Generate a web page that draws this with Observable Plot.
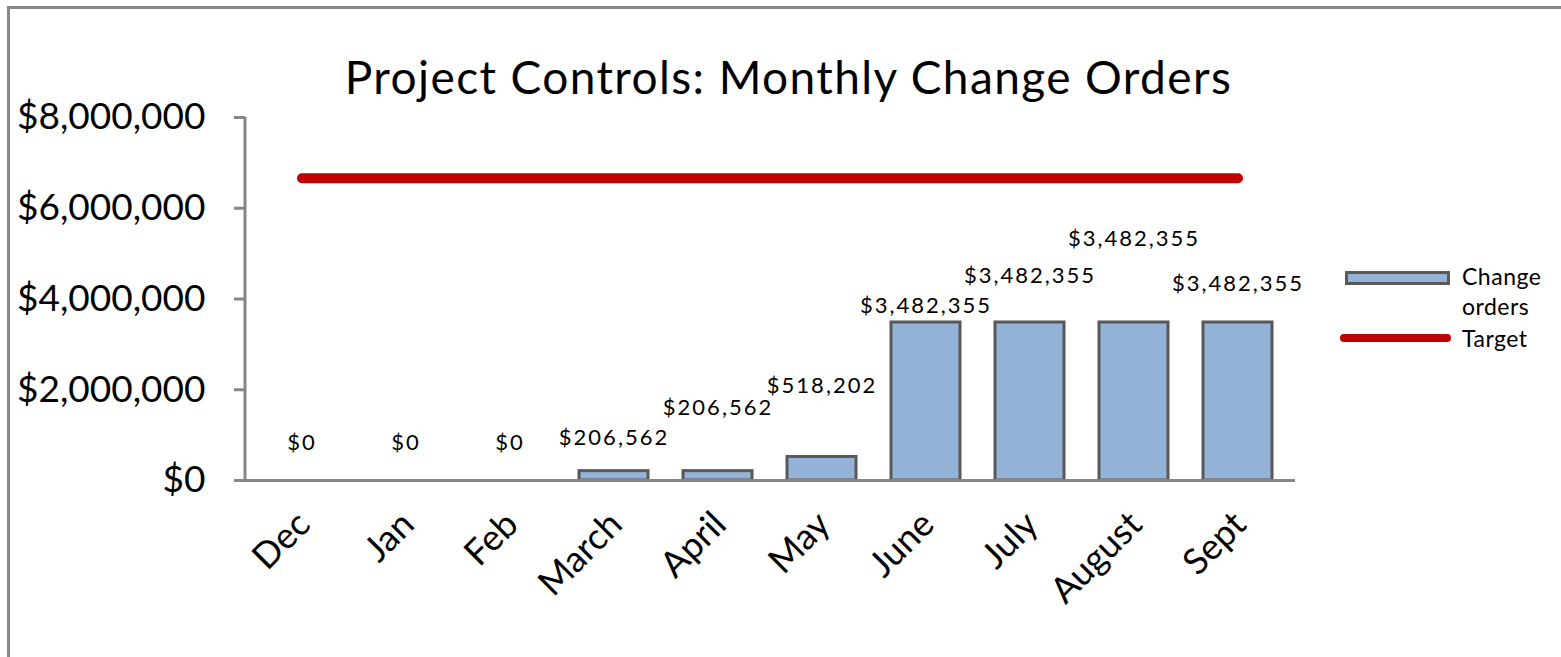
<!DOCTYPE html>
<html><head><meta charset="utf-8">
<script src="https://cdn.jsdelivr.net/npm/d3@7"></script>
<script src="https://cdn.jsdelivr.net/npm/@observablehq/plot@0.6"></script>
<style>
html,body{margin:0;padding:0;background:#fff;overflow:hidden}
#wrap{position:relative;width:1561px;height:657px;font-family:Lato,sans-serif;overflow:hidden;background:#fff}
#border{position:absolute;left:7px;top:6px;width:1600px;height:700px;border:3px solid #888;box-sizing:border-box}
#title{position:absolute;left:8px;width:1561px;top:54px;text-align:center;font-size:46px;line-height:46px;color:#000;letter-spacing:1.4px;white-space:nowrap}
#chart{position:absolute;left:0;top:0}
.lg{position:absolute;font-size:23px;line-height:30px;color:#000;letter-spacing:0.5px}
#lgbar{position:absolute;left:1345px;top:271px;width:105px;height:14px;background:#95B3D7;border:3px solid #595959;box-sizing:border-box}
#lgline{position:absolute;left:1340px;top:334px;width:111px;height:8px;border-radius:4px;background:#C00000}
</style>
</head><body>
<div id="wrap">
  <div id="border"></div>
  <div id="chart"></div>
  <div id="title">Project Controls: Monthly Change Orders</div>
  <div id="lgbar"></div>
  <div class="lg" style="left:1462px;top:261px">Change<br>orders</div>
  <div id="lgline"></div>
  <div class="lg" style="left:1462px;top:323px">Target</div>
</div>
<script>
const months = ["Dec","Jan","Feb","March","April","May","June","July","August","Sept"];
const changeOrders = [0,0,0,206562,206562,518202,3482355,3482355,3482355,3482355];
const target = [6660000,6660000,6660000,6660000,6660000,6660000,6660000,6660000,6660000,6660000];
const yTicks = [0,2000000,4000000,6000000,8000000];
// label lift above bar top (px), as placed in the original
const labelLift = [38,38,38,33,63,71,17,47,84,39];

const rows = months.map((m,i)=>({month:m, value:changeOrders[i], target:target[i]}));
const fmt = d3.format("$,");

const labelMarks = rows.map((r,i)=>Plot.text([r], {
  x:"month", y:"value", text:d=>fmt(d.value), fontSize:22, fill:"#000",
  lineAnchor:"middle", dy:-labelLift[i], dx:0
}));

const plot = Plot.plot({
  width:1561, height:657,
  marginLeft:245, marginRight:266, marginTop:117, marginBottom:177,
  style:{fontFamily:"Lato, sans-serif", background:"transparent", color:"#000"},
  x:{domain:months, paddingInner:0.333, paddingOuter:0.1667, axis:null},
  y:{domain:[0,8000000], axis:null},
  marks:[
    Plot.barY(rows, {x:"month", y:"value", fill:"#95B3D7", stroke:"#595959", strokeWidth:3}),
    Plot.ruleY([0], {stroke:"#868686", strokeWidth:3}),
    Plot.axisY(yTicks, {tickSize:11, tickPadding:29, tickFormat:fmt, fontSize:37, stroke:"#868686", strokeWidth:3, label:null}),
    Plot.line(rows, {x:"month", y:"target", stroke:"#C00000", strokeWidth:10, strokeLinecap:"round"}),
    Plot.text(months, {x:d=>d, frameAnchor:"bottom", rotate:-45, textAnchor:"end", lineAnchor:"middle", fontSize:36, fill:"#000", dx:2, dy:38}),
    ...labelMarks
  ]
});
document.getElementById("chart").appendChild(plot);
const svg = d3.select(plot);
svg.selectAll('g[font-size="22"]').style("letter-spacing","2px");
const xs = plot.scale("x"), ys = plot.scale("y");
svg.append("line")
  .attr("x1", xs.range[0]).attr("x2", xs.range[0])
  .attr("y1", ys.apply(0)+1.5).attr("y2", ys.apply(8000000))
  .attr("stroke","#868686").attr("stroke-width",3);
</script>
</body></html>
